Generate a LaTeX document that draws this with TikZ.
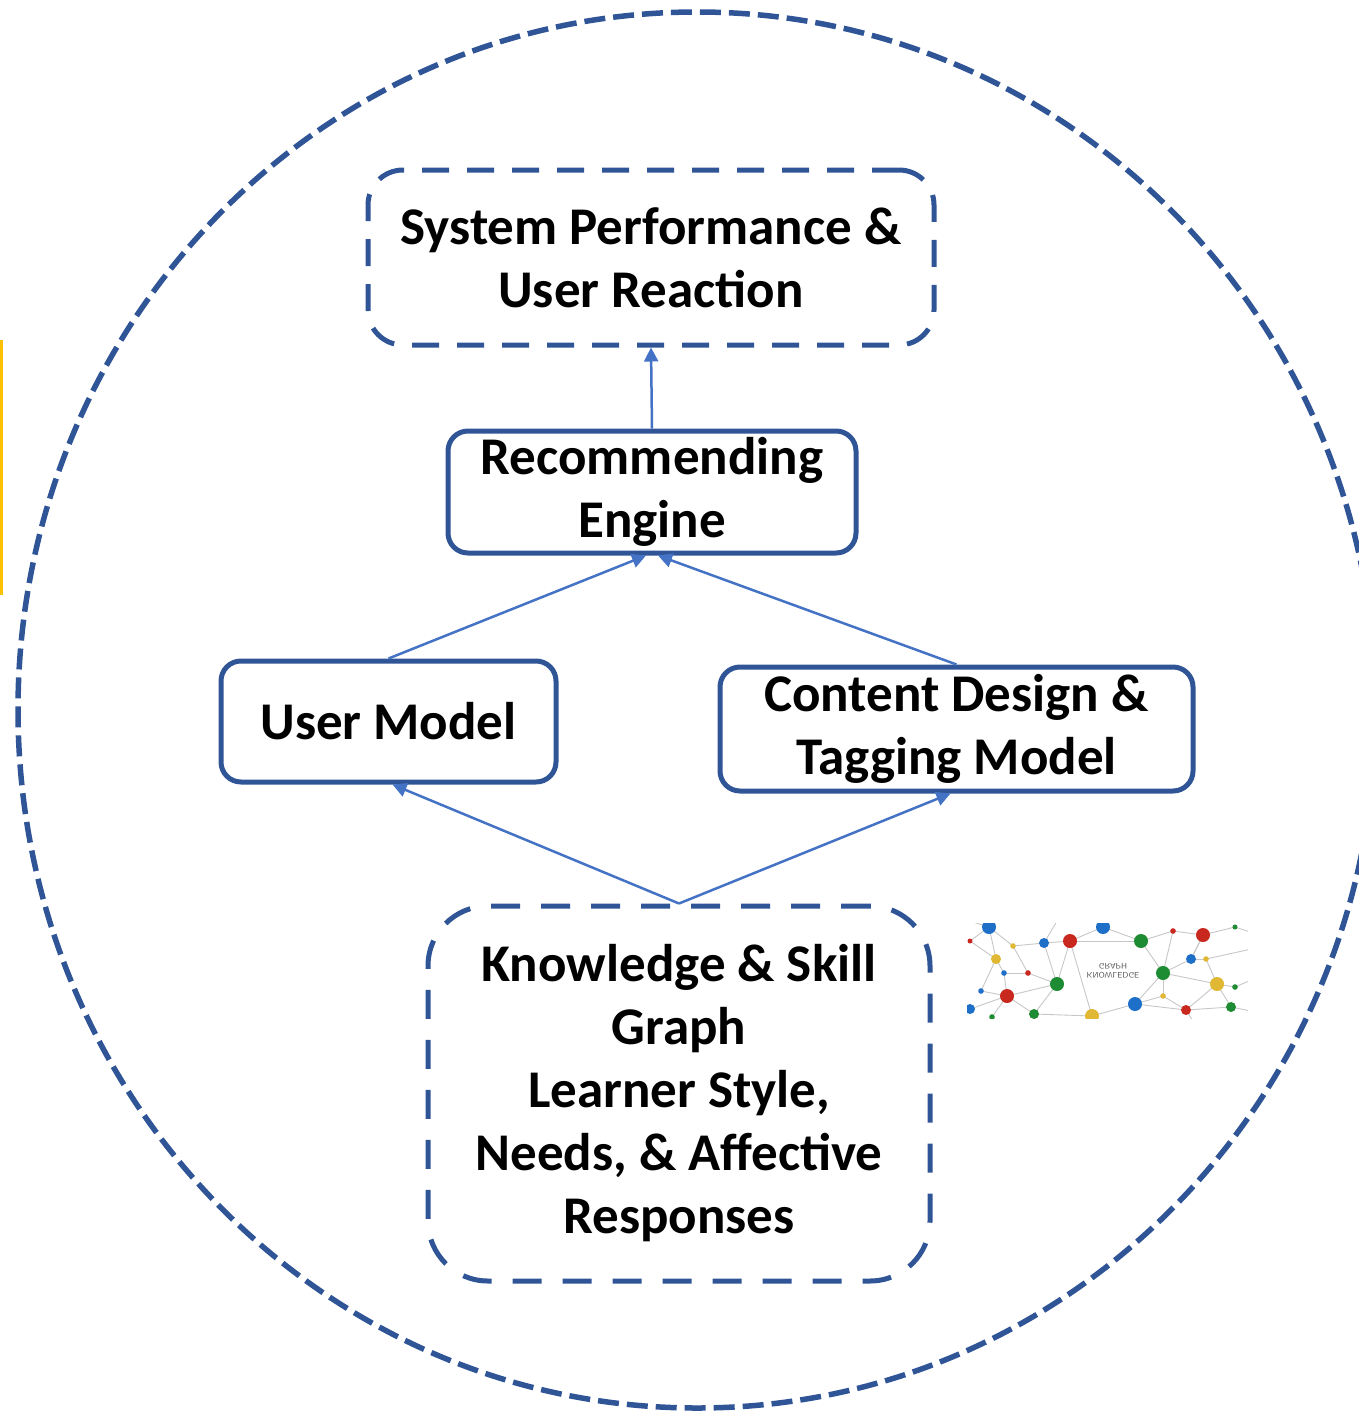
\documentclass[tikz,border=0pt]{standalone}
\usepackage{fontspec}
\setmainfont{Carlito}
\usetikzlibrary{arrows.meta}

\definecolor{frameblue}{HTML}{2F5597}
\definecolor{arrowblue}{HTML}{4472C4}
\definecolor{accent}{HTML}{FFC000}
\definecolor{kgblue}{HTML}{1E6FC8}
\definecolor{kgred}{HTML}{C8281E}
\definecolor{kggreen}{HTML}{1E8C32}
\definecolor{kgyellow}{HTML}{E0B834}

\tikzset{
  label text/.style={font=\fontsize{53}{63}\selectfont\bfseries, align=center, text=black},
  solidbox/.style={label text, draw=frameblue, line width=5pt, rounded corners=20pt, inner sep=0pt},
  dashbox/.style={label text, draw=frameblue, line width=5pt, dash pattern=on 27pt off 18pt, inner sep=0pt},
  flow/.style={draw=arrowblue, line width=2.5pt, -{Triangle[length=14pt,width=14pt]}},
  boundary/.style={draw=frameblue, line width=5.5pt, dash pattern=on 21pt off 8pt},
  kgedge/.style={draw=black!22, line width=0.9pt},
}

\begin{document}
\begin{tikzpicture}[x=1pt, y=-1pt]
\useasboundingbox (0,0) rectangle (1358,1413);

% outer dashed boundary
\draw[boundary] (697,710) ellipse [x radius=679, y radius=698];

% accent bar at the left margin
\draw[accent, line width=3pt] (1.5,340) -- (1.5,595);

% boxes
\node[dashbox, rounded corners=35pt, minimum width=566pt, minimum height=175pt] (perf) at (651,257.5)
  {System Performance \&\\User Reaction};
\node[solidbox, minimum width=408pt, minimum height=122pt] (engine) at (652,492)
  {Recommending\\Engine};
\node[solidbox, minimum width=335pt, minimum height=121pt] (user) at (388.5,721.5)
  {User Model};
\node[solidbox, minimum width=473pt, minimum height=124pt] (content) at (956.5,729)
  {Content Design \&\\Tagging Model};
\node[dashbox, dash pattern=on 29pt off 21pt, rounded corners=60pt, minimum width=502pt, minimum height=375pt] (kb) at (679,1093.5)
  {Knowledge \& Skill\\Graph\\Learner Style,\\Needs, \& Affective\\Responses};

% connectors
\draw[flow] (engine.north) -- (perf.south);
\draw[flow] (user.north) -- ([xshift=-6pt]engine.south);
\draw[flow] (content.north) -- ([xshift=6pt]engine.south);
\draw[flow] (kb.north) -- ([xshift=4pt]user.south);
\draw[flow] (kb.north) -- ([xshift=-6pt]content.south);

% knowledge graph illustration
\begin{scope}
\clip (967,923) rectangle (1248,1018);
\coordinate (b1) at (989,927);  \coordinate (r1) at (970,941);
\coordinate (y1) at (1013,946); \coordinate (b2) at (1044,943);
\coordinate (r2) at (1070,941); \coordinate (b3) at (1103,927);
\coordinate (g1) at (1141,941); \coordinate (r3) at (1173,931);
\coordinate (r4) at (1203,935); \coordinate (g2) at (1235,927);
\coordinate (y2) at (996,959);  \coordinate (b4) at (1191,959);
\coordinate (y3) at (1206,959); \coordinate (b5) at (1004,973);
\coordinate (r5) at (1028,973); \coordinate (g3) at (1163,973);
\coordinate (b6) at (981,991);  \coordinate (g4) at (1057,984);
\coordinate (y4) at (1217,984); \coordinate (g5) at (1235,987);
\coordinate (r6) at (1007,996); \coordinate (y5) at (1163,996);
\coordinate (b7) at (1135,1004);\coordinate (b8) at (970,1009);
\coordinate (g6) at (992,1017); \coordinate (g7) at (1034,1014);
\coordinate (y6) at (1092,1016);\coordinate (r7) at (1186,1010);
\coordinate (g8) at (1231,1007);
\coordinate (e1) at (960,918);  \coordinate (e2) at (1256,934);
\coordinate (e3) at (1256,978); \coordinate (e4) at (1256,948);
\coordinate (e5) at (958,1000); \coordinate (e6) at (985,1026);
\coordinate (e7) at (1100,1026);\coordinate (e8) at (1196,1026);
\coordinate (e9) at (1256,1012);\coordinate (e10) at (1060,916);

\foreach \a/\b in {b1/y1,b1/y2,b1/r1,y1/b2,b2/r2,r2/b3,r2/g1,b3/g1,g1/r3,r3/r4,
  r4/g2,r4/b4,b4/y3,b4/g3,r3/g3,g1/g3,y2/b5,b5/r5,r5/g4,y1/r5,b2/g4,r2/g4,
  r2/y6,g4/g7,g4/r6,r6/b6,r6/b8,r6/g6,r6/g7,b5/r6,y2/r1,g7/y6,y6/b7,b7/g3,
  b7/y5,y5/g3,y5/r7,r7/y4,y4/g5,y4/g8,y4/y3,g3/y4,b7/r7,r7/g8,b1/e1,g2/e2,
  g5/e3,y3/e4,b8/e5,g6/e6,y6/e7,r7/e8,g8/e9,b2/e10,y2/b6,b4/r4}
  \draw[kgedge] (\a) -- (\b);

\foreach \p/\c/\r in {b1/kgblue/7,r1/kgred/2.5,y1/kgyellow/2.8,b2/kgblue/5,
  r2/kgred/7,b3/kgblue/7,g1/kggreen/7,r3/kgred/2.8,r4/kgred/7,g2/kggreen/2.5,
  y2/kgyellow/5,b4/kgblue/5,y3/kgyellow/2.8,b5/kgblue/2.8,r5/kgred/2.8,
  g3/kggreen/7,b6/kgblue/2.8,g4/kggreen/7,y4/kgyellow/7,g5/kggreen/2.8,
  r6/kgred/7,y5/kgyellow/2.8,b7/kgblue/7,b8/kgblue/5,g6/kggreen/2.8,
  g7/kggreen/5,y6/kgyellow/7,r7/kgred/5,g8/kggreen/5}
  \fill[\c] (\p) circle [radius=\r];

\node[yscale=-1, font=\fontsize{8}{9}\selectfont\sffamily, text=black!65, align=center, inner sep=0pt]
  (kgtitle) at (1113,970.5) {KNOWLEDGE\\GRAPH};
\end{scope}
\end{tikzpicture}
\end{document}
